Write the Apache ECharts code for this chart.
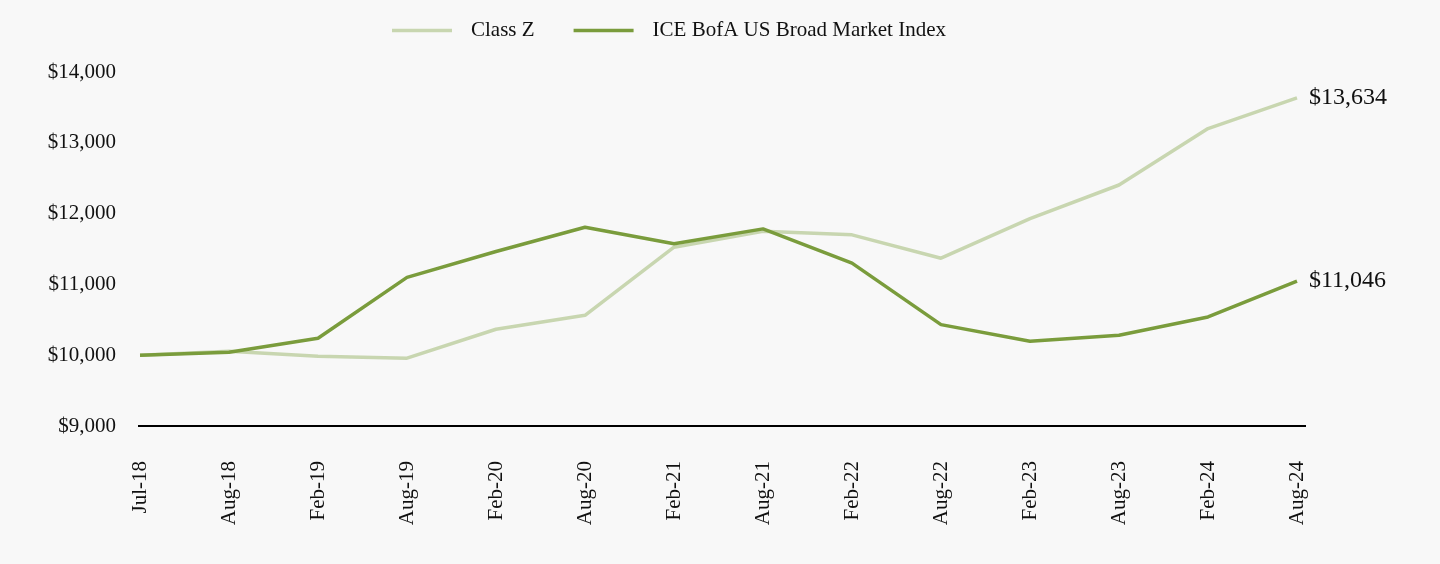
<!DOCTYPE html>
<html>
<head>
<meta charset="utf-8">
<script src="https://cdn.jsdelivr.net/npm/echarts@6/dist/echarts.min.js"></script>
<style>
html,body{margin:0;padding:0;background:#f8f8f8;}
#c{width:1440px;height:564px;}
</style>
</head>
<body>
<div id="c"></div>
<script>
const categories = ["Jul-18","Aug-18","Feb-19","Aug-19","Feb-20","Aug-20","Feb-21","Aug-21","Feb-22","Aug-22","Feb-23","Aug-23","Feb-24","Aug-24"];
const classZ = [10000,10056,9986,9958,10366,10563,11525,11751,11700,11370,11930,12404,13201,13634];
const indexVals = [10000,10042,10239,11099,11465,11807,11573,11784,11300,10432,10197,10282,10540,11046];
const seriesNames = ["Class Z","ICE BofA US Broad Market Index"];
const yTicks = {min:9000,max:14000,interval:1000};

const FONT = "'Liberation Serif','Times New Roman',serif";
const fmt = v => '$' + Math.round(v).toLocaleString('en-US');
const chart = echarts.init(document.getElementById('c'));
chart.setOption({
  backgroundColor:'#f8f8f8',
  animation:false,
  grid:{left:140,right:143,top:72,bottom:138,containLabel:false},
  legend:{
    top:15,left:387,
    icon:'rect',itemWidth:60,itemHeight:3.5,itemGap:39,
    textStyle:{fontFamily:FONT,fontSize:21,color:'#111',padding:[0,0,0,14]},
    data:seriesNames
  },
  xAxis:{
    type:'category',data:categories,boundaryGap:false,
    axisLine:{show:false},
    axisTick:{show:false},
    axisLabel:{rotate:90,fontFamily:FONT,fontSize:21,color:'#111',margin:35,interval:0}
  },
  yAxis:{
    type:'value',min:yTicks.min,max:yTicks.max,interval:yTicks.interval,
    axisLine:{show:false},axisTick:{show:false},splitLine:{show:false},
    axisLabel:{fontFamily:FONT,fontSize:21,color:'#111',margin:24,formatter:fmt}
  },
  series:[
    {name:seriesNames[0],type:'line',data:classZ,symbol:'none',
     lineStyle:{color:'#c8d6b0',width:3.5},itemStyle:{color:'#c8d6b0'},
     endLabel:{show:true,formatter:p=>fmt(p.value),fontFamily:FONT,fontSize:24,color:'#111',distance:12}},
    {name:seriesNames[1],type:'line',data:indexVals,symbol:'none',
     lineStyle:{color:'#7a9c3c',width:3.5},itemStyle:{color:'#7a9c3c'},
     endLabel:{show:true,formatter:p=>fmt(p.value),fontFamily:FONT,fontSize:24,color:'#111',distance:12}}
  ]
});
const p0 = chart.convertToPixel({gridIndex:0},[0,yTicks.min]);
const p1 = chart.convertToPixel({gridIndex:0},[categories.length-1,yTicks.min]);
chart.setOption({graphic:[{type:'line',z:0,shape:{x1:p0[0]-2,y1:p0[1],x2:p1[0]+9,y2:p1[1]},style:{stroke:'#000',lineWidth:2}}]});
</script>
</body>
</html>
